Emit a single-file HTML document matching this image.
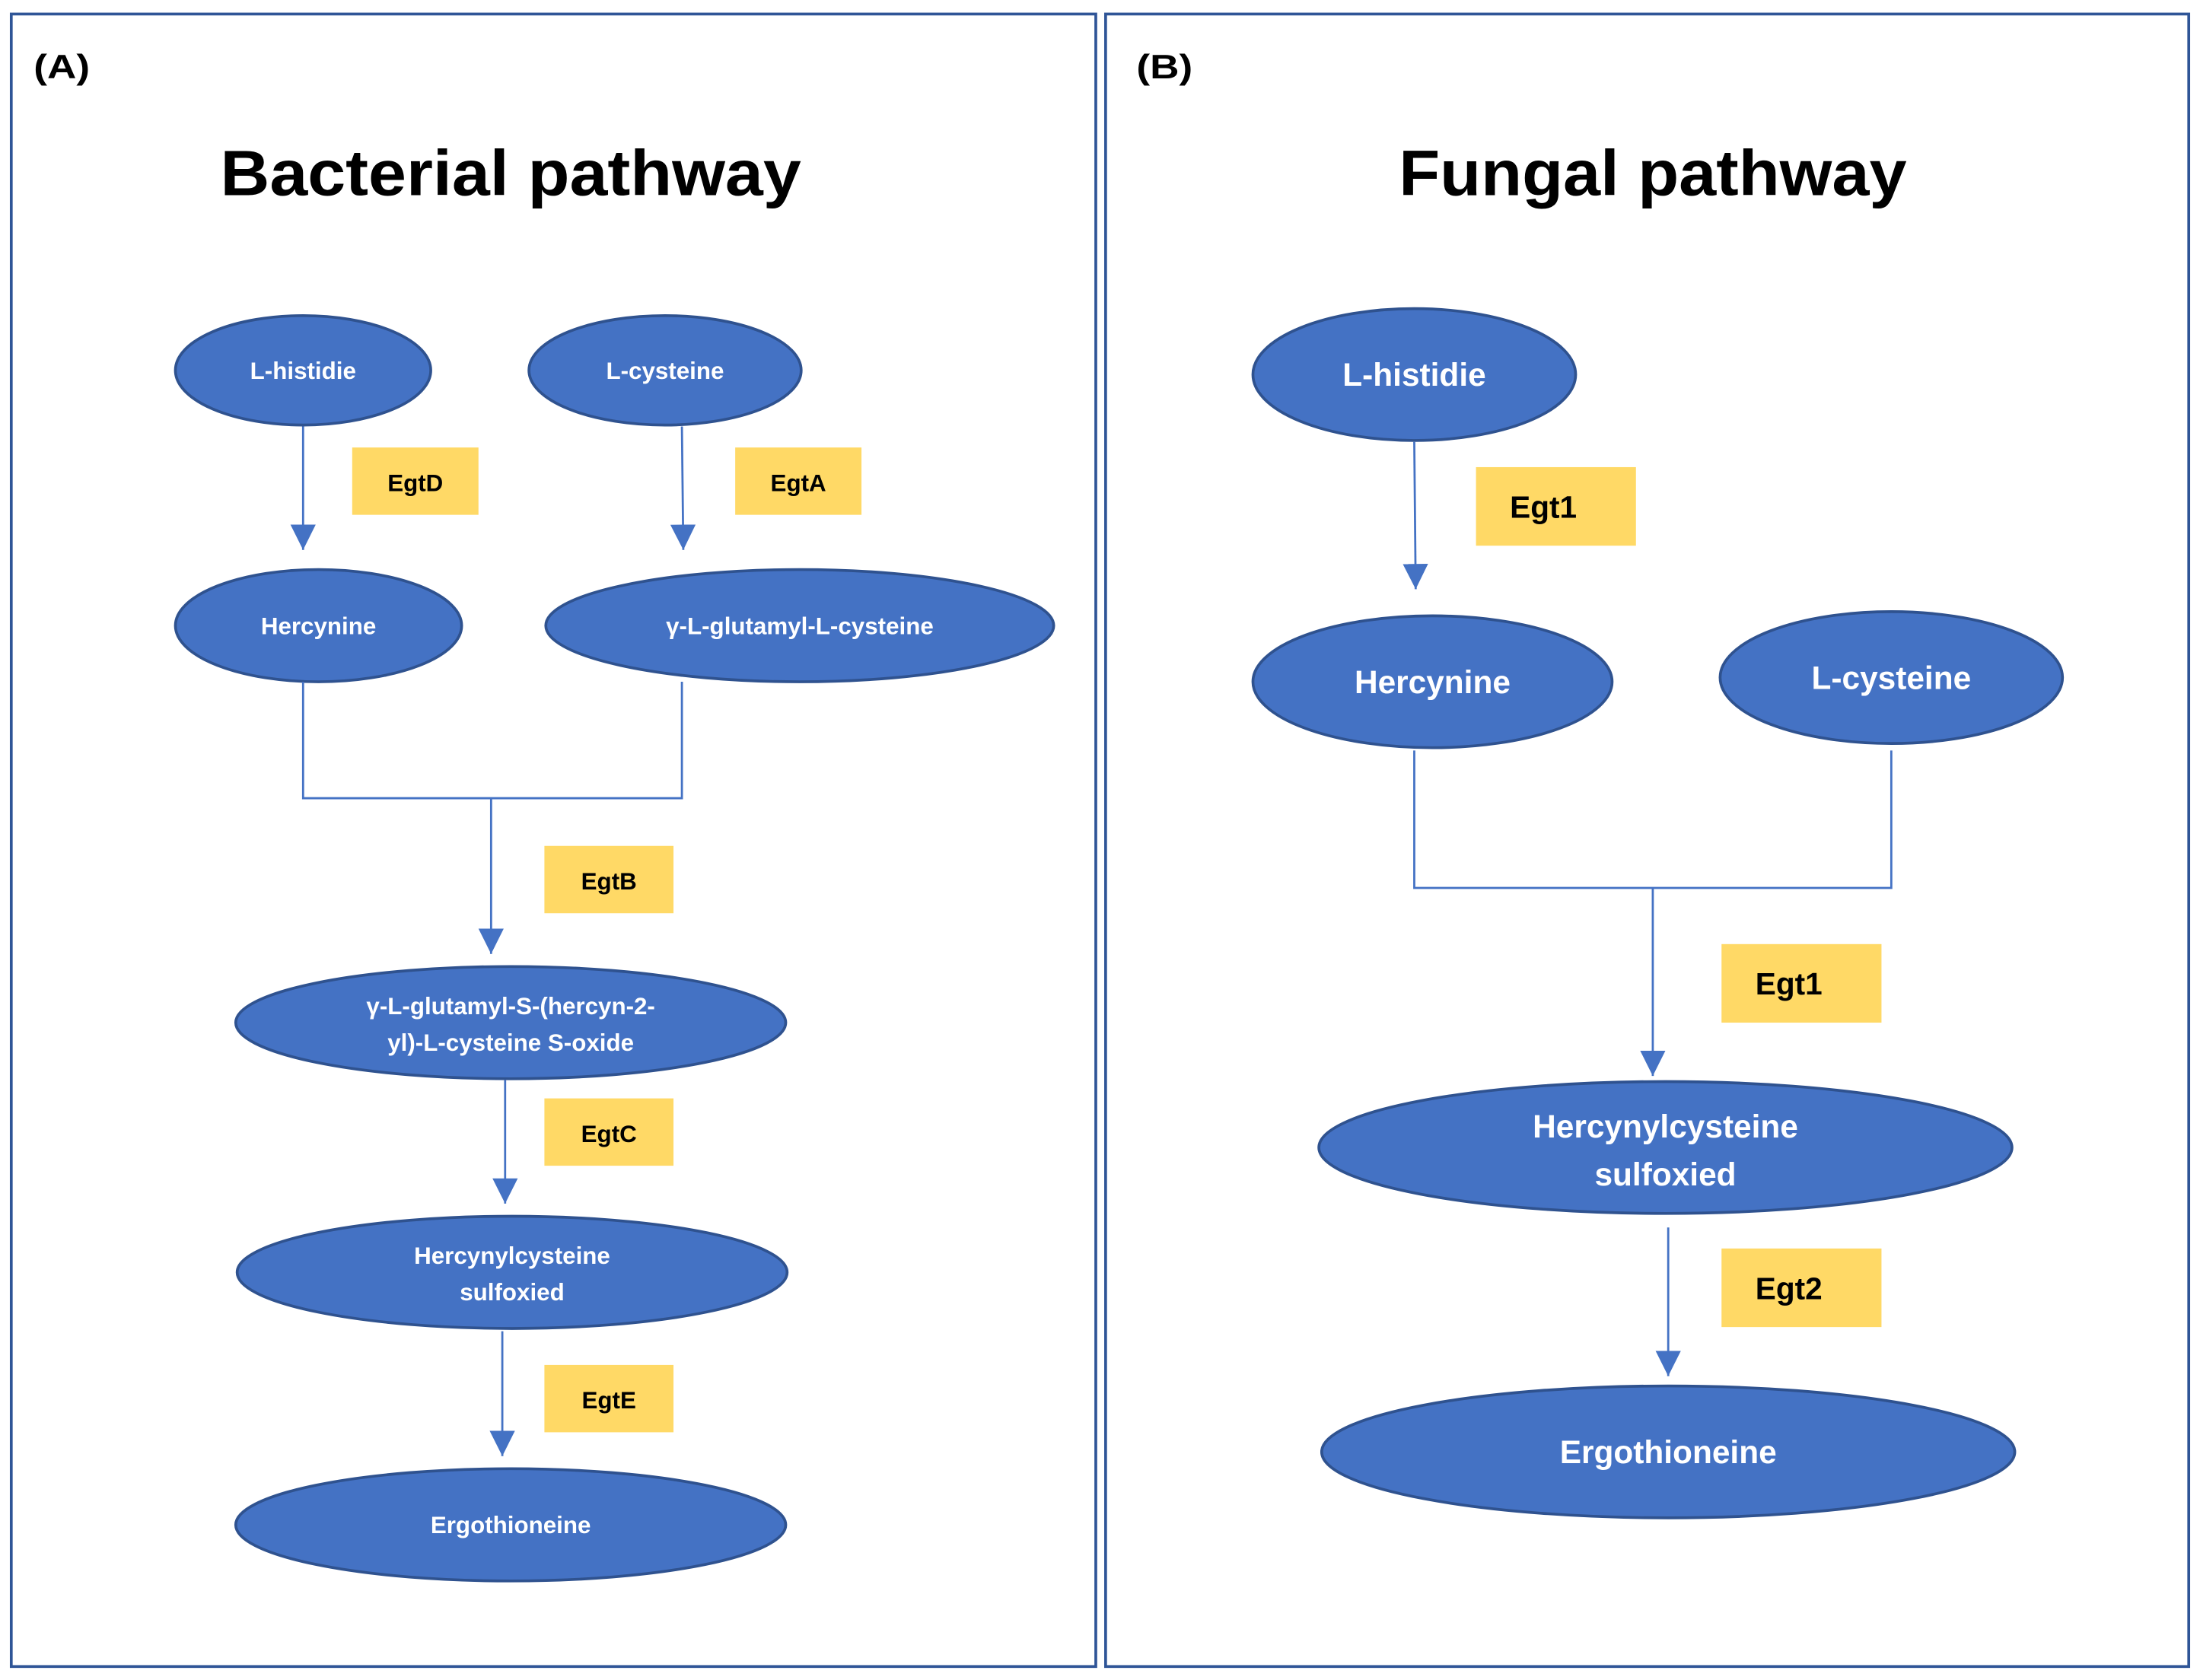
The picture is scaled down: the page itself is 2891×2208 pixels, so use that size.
<!DOCTYPE html>
<html><head><meta charset="utf-8"><style>html,body{margin:0;padding:0;background:#fff}svg{display:block}</style></head>
<body>
<svg width="2891" height="2208" viewBox="0 0 1568 1197.6" xmlns="http://www.w3.org/2000/svg" font-family="'Liberation Sans', sans-serif">
<defs>
<marker id="ah" markerWidth="10" markerHeight="10" refX="9" refY="5" orient="auto" markerUnits="userSpaceOnUse"><path d="M0,0 L10,5 L0,10 Z" fill="#4472C4"/></marker>
<marker id="ah2" markerWidth="20" markerHeight="18" refX="18" refY="9" orient="auto" markerUnits="userSpaceOnUse"><path d="M0,0 L18,9 L0,18 Z" fill="#4472C4"/></marker>
</defs>
<rect width="1568" height="1197.6" fill="#fff"/>
<rect x="8" y="10" width="773" height="1178" fill="none" stroke="#2F5597" stroke-width="2"/>
<rect x="788" y="10" width="772" height="1178" fill="none" stroke="#2F5597" stroke-width="2"/>
<text x="24" y="56" font-size="24" font-weight="bold" textLength="40" lengthAdjust="spacingAndGlyphs">(A)</text>
<text x="810" y="56" font-size="24" font-weight="bold" textLength="40" lengthAdjust="spacingAndGlyphs">(B)</text>
<text x="157" y="139" font-size="46" font-weight="bold" textLength="414" lengthAdjust="spacingAndGlyphs">Bacterial pathway</text>
<text x="997" y="139" font-size="46" font-weight="bold" textLength="362" lengthAdjust="spacingAndGlyphs">Fungal pathway</text>

<g fill="#4472C4" stroke="#2F528F" stroke-width="2">
<ellipse cx="216" cy="264" rx="91" ry="39"/>
<ellipse cx="474" cy="264" rx="97" ry="39"/>
<ellipse cx="227" cy="446" rx="102" ry="40"/>
<ellipse cx="570" cy="446" rx="181" ry="40"/>
<ellipse cx="364" cy="729" rx="196" ry="40"/>
<ellipse cx="365" cy="907" rx="196" ry="40"/>
<ellipse cx="364" cy="1087" rx="196" ry="40"/>
<ellipse cx="1008" cy="267" rx="115" ry="47"/>
<ellipse cx="1021" cy="486" rx="128" ry="47"/>
<ellipse cx="1348" cy="483" rx="122" ry="47"/>
<ellipse cx="1187" cy="818" rx="247" ry="47"/>
<ellipse cx="1189" cy="1035" rx="247" ry="47"/>
</g>

<g fill="#FFD966">
<rect x="251" y="319" width="90" height="48"/>
<rect x="524" y="319" width="90" height="48"/>
<rect x="388" y="603" width="92" height="48"/>
<rect x="388" y="783" width="92" height="48"/>
<rect x="388" y="973" width="92" height="48"/>
<rect x="1052" y="333" width="114" height="56"/>
<rect x="1227" y="673" width="114" height="56"/>
<rect x="1227" y="890" width="114" height="56"/>
</g>

<g stroke="#4472C4" stroke-width="1.5" fill="none">
<line x1="216" y1="304" x2="216" y2="392" marker-end="url(#ah2)"/>
<line x1="486" y1="304" x2="487" y2="392" marker-end="url(#ah2)"/>
<polyline points="216,486 216,569 486,569 486,486"/>
<line x1="350" y1="569" x2="350" y2="680" marker-end="url(#ah2)"/>
<line x1="360" y1="770" x2="360" y2="858" marker-end="url(#ah2)"/>
<line x1="358" y1="949" x2="358" y2="1038" marker-end="url(#ah2)"/>
<line x1="1008" y1="315" x2="1009" y2="420" marker-end="url(#ah2)"/>
<polyline points="1008,535 1008,633 1348,633 1348,535"/>
<line x1="1178" y1="633" x2="1178" y2="767" marker-end="url(#ah2)"/>
<line x1="1189" y1="875" x2="1189" y2="981" marker-end="url(#ah2)"/>
</g>

<g fill="#fff" font-weight="bold" font-size="17" text-anchor="middle">
<text x="216" y="270">L-histidie</text>
<text x="474" y="270">L-cysteine</text>
<text x="227" y="452">Hercynine</text>
<text x="570" y="452">γ-L-glutamyl-L-cysteine</text>
<text x="364" y="723">γ-L-glutamyl-S-(hercyn-2-</text>
<text x="364" y="749">yl)-L-cysteine S-oxide</text>
<text x="365" y="901">Hercynylcysteine</text>
<text x="365" y="927">sulfoxied</text>
<text x="364" y="1093">Ergothioneine</text>
</g>
<g fill="#fff" font-weight="bold" font-size="23" text-anchor="middle">
<text x="1008" y="275">L-histidie</text>
<text x="1021" y="494">Hercynine</text>
<text x="1348" y="491">L-cysteine</text>
<text x="1187" y="811">Hercynylcysteine</text>
<text x="1187" y="845">sulfoxied</text>
<text x="1189" y="1043">Ergothioneine</text>
</g>
<g fill="#000" font-weight="bold" font-size="17" text-anchor="middle">
<text x="296" y="350">EgtD</text>
<text x="569" y="350">EgtA</text>
<text x="434" y="634">EgtB</text>
<text x="434" y="814">EgtC</text>
<text x="434" y="1004">EgtE</text>
</g>
<g fill="#000" font-weight="bold" font-size="22" text-anchor="middle">
<text x="1100" y="369">Egt1</text>
<text x="1275" y="709">Egt1</text>
<text x="1275" y="926">Egt2</text>
</g>
</svg>
</body></html>
